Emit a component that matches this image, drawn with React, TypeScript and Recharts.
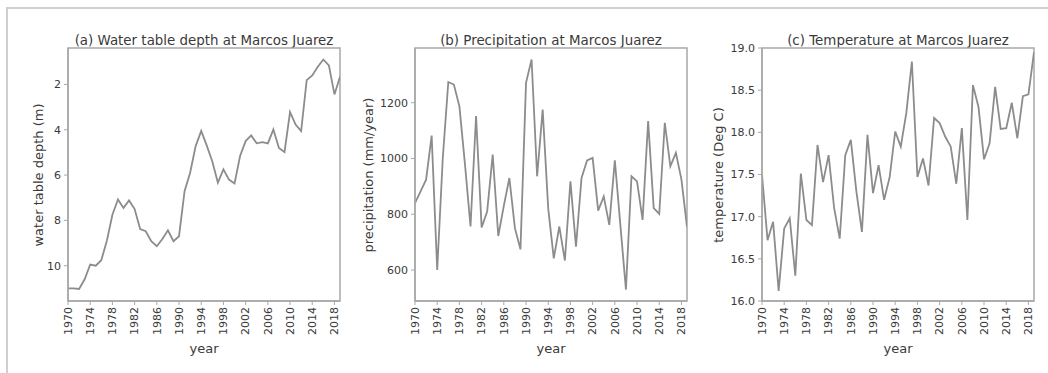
import React from "react";
import { LineChart, Line, XAxis, YAxis, ReferenceArea } from "recharts";

const years: number[] = [
  1970, 1971, 1972, 1973, 1974, 1975, 1976, 1977, 1978, 1979,
  1980, 1981, 1982, 1983, 1984, 1985, 1986, 1987, 1988, 1989,
  1990, 1991, 1992, 1993, 1994, 1995, 1996, 1997, 1998, 1999,
  2000, 2001, 2002, 2003, 2004, 2005, 2006, 2007, 2008, 2009,
  2010, 2011, 2012, 2013, 2014, 2015, 2016, 2017, 2018, 2019,
];

const waterDepth: number[] = [
  11.0, 11.0, 11.03, 10.6, 9.95, 10.0, 9.76, 8.9, 7.75, 7.08,
  7.45, 7.12, 7.5, 8.38, 8.48, 8.92, 9.14, 8.82, 8.44, 8.92,
  8.7, 6.71, 5.9, 4.72, 4.05, 4.7, 5.4, 6.34, 5.75, 6.2,
  6.37, 5.16, 4.5, 4.25, 4.6, 4.55, 4.6, 3.99, 4.8, 4.99,
  3.22, 3.77, 4.06, 1.81, 1.6, 1.22, 0.9, 1.16, 2.44, 1.66,
];

const precipitation: number[] = [
  840, 882, 924, 1082, 600, 1000, 1274, 1265, 1187, 980,
  756, 1152, 753, 810, 1014, 722, 830, 930, 750, 674,
  1271, 1355, 936, 1175, 820, 642, 756, 634, 918, 684,
  930, 993, 1002, 813, 864, 762, 993, 760, 530, 936,
  918, 780, 1134, 822, 801, 1128, 972, 1020, 924, 755,
];

const temperature: number[] = [
  17.5, 16.72, 16.94, 16.12, 16.86, 16.98, 16.3, 17.51, 16.96, 16.9,
  17.85, 17.41, 17.73, 17.1, 16.74, 17.73, 17.91, 17.3, 16.82, 17.97,
  17.28, 17.61, 17.2, 17.47, 18.01, 17.83, 18.23, 18.84, 17.47, 17.69,
  17.37, 18.17, 18.11, 17.95, 17.83, 17.39, 18.05, 16.96, 18.56, 18.3,
  17.68, 17.87, 18.54, 18.04, 18.05, 18.35, 17.93, 18.43, 18.45, 18.95,
];

const yearTicks: number[] = [1970, 1974, 1978, 1982, 1986, 1990, 1994, 1998, 2002, 2006, 2010, 2014, 2018];
const depthTicks: number[] = [2, 4, 6, 8, 10];
const precipTicks: number[] = [600, 800, 1000, 1200];
const tempTicks: number[] = [16.0, 16.5, 17.0, 17.5, 18.0, 18.5, 19.0];

const FONT = "'DejaVu Sans', Verdana, sans-serif";
const TEXT = "#3a3a3a";
const LINE = "#8c8c8c";
const BOX = "#a8a8a8";

const PLOT_TOP = 48;
const PLOT_H = 253;
const PLOT_W = 272;
const YAXIS_W = 70;

const XTick = (props: any) => {
  const { x, y, payload } = props;
  return (
    <g transform={`translate(${x},${y})`}>
      <text
        transform="rotate(-90)"
        x={0}
        y={0}
        dy="0.35em"
        textAnchor="end"
        fontSize={11}
        fill={TEXT}
        fontFamily={FONT}
      >
        {payload.value}
      </text>
    </g>
  );
};

type PanelProps = {
  plotLeft: number;
  values: number[];
  domain: [number, number];
  ticks: number[];
  reversed?: boolean;
  fmt?: (v: number) => string;
  title: string;
  ylabel: string;
  ylabelGap: number;
};

const Panel = ({ plotLeft, values, domain, ticks, reversed, fmt, title, ylabel, ylabelGap }: PanelProps) => {
  const data = years.map((yr, i) => ({ year: yr, v: values[i] }));
  const chartLeft = plotLeft - YAXIS_W;
  return (
    <>
      <div
        style={{
          position: "absolute",
          left: plotLeft + PLOT_W / 2,
          top: 40,
          transform: "translate(-50%, -50%)",
          whiteSpace: "nowrap",
          fontFamily: FONT,
          fontSize: 13.4,
          color: TEXT,
        }}
      >
        {title}
      </div>
      <div
        style={{
          position: "absolute",
          left: plotLeft - ylabelGap,
          top: PLOT_TOP + PLOT_H / 2,
          transform: "translate(-50%, -50%) rotate(-90deg)",
          whiteSpace: "nowrap",
          fontFamily: FONT,
          fontSize: 13,
          color: TEXT,
        }}
      >
        {ylabel}
      </div>
      <div
        style={{
          position: "absolute",
          left: plotLeft + PLOT_W / 2,
          top: 348,
          transform: "translate(-50%, -50%)",
          whiteSpace: "nowrap",
          fontFamily: FONT,
          fontSize: 13,
          color: TEXT,
        }}
      >
        year
      </div>
      <div style={{ position: "absolute", left: chartLeft, top: 0 }}>
        <LineChart
          width={YAXIS_W + PLOT_W + 5}
          height={373}
          data={data}
          margin={{ top: PLOT_TOP, right: 5, bottom: 22, left: 0 }}
        >
          <XAxis
            dataKey="year"
            type="number"
            domain={[1970, 2019]}
            ticks={yearTicks}
            interval={0}
            allowDataOverflow
            height={373 - 22 - PLOT_TOP - PLOT_H}
            tickSize={4}
            tickMargin={2}
            tickLine={{ stroke: BOX }}
            axisLine={{ stroke: BOX, strokeWidth: 1.5 }}
            tick={<XTick />}
          />
          <YAxis
            type="number"
            domain={domain}
            ticks={ticks}
            reversed={reversed}
            allowDataOverflow
            interval={0}
            width={YAXIS_W}
            tickSize={4}
            tickMargin={3}
            tickLine={{ stroke: BOX }}
            axisLine={{ stroke: BOX, strokeWidth: 1.5 }}
            tickFormatter={fmt}
            tick={{ fontSize: 11, fill: TEXT, fontFamily: FONT }}
          />
          <ReferenceArea
            x1={1970}
            x2={2019}
            y1={domain[0]}
            y2={domain[1]}
            fill="none"
            fillOpacity={0}
            stroke={BOX}
            strokeWidth={1.5}
            ifOverflow="visible"
          />
          <Line
            type="linear"
            dataKey="v"
            stroke={LINE}
            strokeWidth={1.8}
            dot={false}
            isAnimationActive={false}
          />
        </LineChart>
      </div>
    </>
  );
};

export default function App() {
  return (
    <div
      style={{
        position: "absolute",
        left: 0,
        top: 0,
        width: 1048,
        height: 373,
        background: "#fff",
        overflow: "hidden",
      }}
    >
      <div
        style={{
          position: "absolute",
          left: 6,
          top: 7,
          width: 1100,
          height: 400,
          borderTop: "2px solid #cfcfcf",
          borderLeft: "2px solid #cfcfcf",
        }}
      />
      <Panel
        plotLeft={68}
        values={waterDepth}
        domain={[0.39, 11.56]}
        ticks={depthTicks}
        reversed
        title="(a) Water table depth at Marcos Juarez"
        ylabel="water table depth (m)"
        ylabelGap={30}
      />
      <Panel
        plotLeft={415}
        values={precipitation}
        domain={[489, 1396]}
        ticks={precipTicks}
        title="(b) Precipitation at Marcos Juarez"
        ylabel="precipitation (mm/year)"
        ylabelGap={47}
      />
      <Panel
        plotLeft={762}
        values={temperature}
        domain={[16, 19]}
        ticks={tempTicks}
        fmt={(v: number) => v.toFixed(1)}
        title="(c) Temperature at Marcos Juarez"
        ylabel="temperature (Deg C)"
        ylabelGap={44}
      />
    </div>
  );
}
